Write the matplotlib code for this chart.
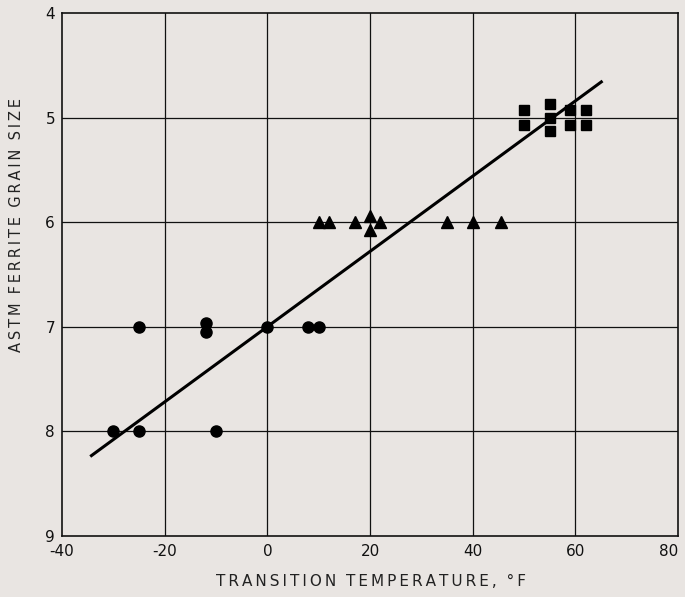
import matplotlib
matplotlib.use("Agg")
import matplotlib.pyplot as plt

# Fine-grained (ASTM ~5) specimens
sq_temp = [50, 50, 55, 55, 55, 59, 59, 62, 62]
sq_size = [4.93, 5.07, 4.87, 5.0, 5.13, 4.93, 5.07, 4.93, 5.07]

# ASTM ~6 specimens
tri_temp = [10, 12, 17, 20, 20, 22, 35, 40, 45.5]
tri_size = [6.0, 6.0, 6.0, 5.94, 6.07, 6.0, 6.0, 6.0, 6.0]

# ASTM ~7 and ~8 specimens
circ_temp = [-25, -12, -12, 0, 8, 10, -30, -25, -10]
circ_size = [7.0, 6.96, 7.05, 7.0, 7.0, 7.0, 8.0, 8.0, 8.0]

# Fitted trend line end points
fit_temp = [-34.5, 65.3]
fit_size = [8.24, 4.65]

x_ticks = [-40, -20, 0, 20, 40, 60, 80]
y_ticks = [4, 5, 6, 7, 8, 9]


def spaced(text):
    """Open up the letter spacing with thin spaces."""
    out = []
    for word in text.split(" "):
        out.append("\u2009".join(word))
    return "  ".join(out)


bg = "#e9e5e2"
fig = plt.figure(figsize=(6.85, 5.97), dpi=100, facecolor=bg)
ax = fig.add_axes([62/685, 1-536/597, (678-62)/685, (536-13)/597])
ax.set_facecolor(bg)

ax.set_xlim(-40, 80)
ax.set_ylim(9, 4)

for x in [-20, 0, 20, 40, 60]:
    ax.axvline(x, color="#111111", lw=0.9, zorder=1)
for y in [5, 6, 7, 8]:
    ax.axhline(y, color="#111111", lw=0.9, zorder=1)

ax.plot(fit_temp, fit_size, color="black", lw=2.2, solid_capstyle="butt", zorder=3)
ax.plot(sq_temp, sq_size, "s", color="black", ms=7.5, zorder=4)
ax.plot(tri_temp, tri_size, "^", color="black", ms=8, zorder=4)
ax.plot(circ_temp, circ_size, "o", color="black", ms=8, zorder=4)

for s in ax.spines.values():
    s.set_color("#111111")
    s.set_linewidth(1.2)

ax.set_xticks(x_ticks)
ax.set_yticks(y_ticks)
ax.set_xticklabels([str(v) for v in x_ticks])
ax.tick_params(length=0, labelsize=11, colors="#111111", pad=6)
ax.tick_params(axis="y", pad=5)
for lbl in ax.get_xticklabels() + ax.get_yticklabels():
    lbl.set_fontweight("medium")
ax.get_xticklabels()[-1].set_horizontalalignment("right")

fig.text(371/685, 1-582/597, spaced("TRANSITION TEMPERATURE, °F"),
         ha="center", va="center", fontsize=11, color="#222222")
fig.text(17/685, 1-225/597, spaced("ASTM FERRITE GRAIN SIZE"),
         ha="center", va="center", rotation=90, fontsize=10.5, color="#222222")

fig.savefig("out.png", dpi=100, facecolor=bg)
